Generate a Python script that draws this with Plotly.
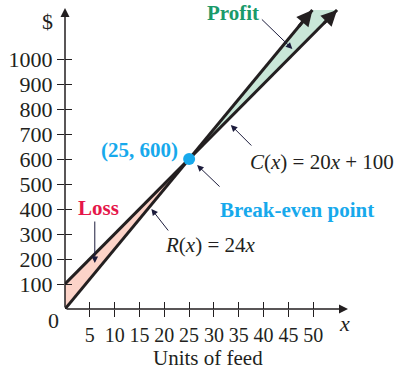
import plotly.graph_objects as go

# Cost and revenue model
revenue_rate = 24          # R(x) = 24x
cost_rate = 20             # C(x) = 20x + 100
fixed_cost = 100
break_even = (25, 600)
y_top = 1196               # where the drawn lines stop

x_ticks = [5, 10, 15, 20, 25, 30, 35, 40, 45, 50]
y_ticks = [100, 200, 300, 400, 500, 600, 700, 800, 900, 1000]

def R(x):
    return revenue_rate * x

def C(x):
    return cost_rate * x + fixed_cost

x_r_end = y_top / revenue_rate
x_c_end = (y_top - fixed_cost) / cost_rate

INK = "#231f20"
CALLOUT = "#1c1c3c"
SERIF = "Liberation Serif"
BLUE = "#17a9ec"
GREEN = "#1a9a6a"
RED = "#e5174a"

fig = go.Figure()

# Loss region (cost above revenue)
fig.add_trace(go.Scatter(
    x=[0, break_even[0], 0, 0], y=[R(0), break_even[1], C(0), R(0)],
    fill="toself", fillcolor="#fcd3c8", line=dict(width=0),
    mode="lines", hoverinfo="skip"))
# Profit region (revenue above cost)
fig.add_trace(go.Scatter(
    x=[break_even[0], x_r_end, x_c_end, break_even[0]],
    y=[break_even[1], y_top, y_top, break_even[1]],
    fill="toself", fillcolor="#c9e7d8", line=dict(width=0),
    mode="lines", hoverinfo="skip"))

# Revenue and cost lines
fig.add_trace(go.Scatter(x=[0, x_r_end], y=[R(0), R(x_r_end)], mode="lines",
                         line=dict(color=INK, width=3), hoverinfo="skip"))
fig.add_trace(go.Scatter(x=[0, x_c_end], y=[C(0), C(x_c_end)], mode="lines",
                         line=dict(color=INK, width=3), hoverinfo="skip"))

# Break-even point
fig.add_trace(go.Scatter(x=[break_even[0]], y=[break_even[1]], mode="markers",
                         marker=dict(size=12, color=BLUE), hoverinfo="skip"))

# Invisible trace on the overlay axes so they render
fig.add_trace(go.Scatter(x=[0], y=[0], xaxis="x2", yaxis="y2", mode="markers",
                         marker=dict(opacity=0), hoverinfo="skip"))

annotations = []

# Axis lines with arrowheads
annotations.append(dict(x=57, y=0, ax=0, ay=0, xref="x", yref="y", axref="x", ayref="y",
                        showarrow=True, arrowhead=2, arrowsize=1.2, arrowwidth=1.5,
                        arrowcolor=INK, text=""))
annotations.append(dict(x=0, y=1204, ax=0, ay=0, xref="x", yref="y", axref="x", ayref="y",
                        showarrow=True, arrowhead=2, arrowsize=1.2, arrowwidth=1.5,
                        arrowcolor=INK, text=""))

# Arrowheads at the ends of the two lines
for xe, ye, rate in [(x_r_end, y_top, revenue_rate), (x_c_end, y_top, cost_rate)]:
    annotations.append(dict(x=xe, y=ye, ax=xe - 3, ay=ye - 3 * rate,
                            xref="x", yref="y", axref="x", ayref="y",
                            showarrow=True, arrowhead=2, arrowsize=1.05, arrowwidth=3,
                            arrowcolor=INK, text=""))

# Callout arrows
def callout(x, y, ax, ay):
    annotations.append(dict(x=x, y=y, ax=ax, ay=ay, xref="x", yref="y",
                            showarrow=True, arrowhead=2, arrowsize=1.3, arrowwidth=1,
                            arrowcolor=CALLOUT, text=""))

callout(45.8, 1040, -32, -31)   # Profit
callout(33.4, 736, 22, 22)      # C(x)
callout(26.6, 576, 24, 23)      # Break-even point
callout(17.4, 400, 18, 23)      # R(x)
callout(6.0, 184, 0, -43)       # Loss

def label(x, y, text, size=21, color=INK, xanchor="center", bold=False, ref="data"):
    if bold:
        text = "<b>" + text + "</b>"
    xr, yr = ("x", "y") if ref == "data" else ("paper", "paper")
    annotations.append(dict(x=x, y=y, xref=xr, yref=yr, text=text, showarrow=False,
                            xanchor=xanchor, yanchor="middle",
                            font=dict(family=SERIF, size=size, color=color)))

label(33.8, 1184, "Profit", color=GREEN, bold=True)
label(36.8, 588, "<i>C</i>(<i>x</i>) = 20<i>x</i> + 100", xanchor="left")
label(30.8, 396, "Break-even point", color=BLUE, bold=True, xanchor="left")
label(23.2, 636, "(25, 600)", color=BLUE, bold=True, xanchor="right")
label(6.8, 404, "Loss", color=RED, bold=True)
label(19.8, 256, "<i>R</i>(<i>x</i>) = 24<i>x</i>", xanchor="left")

# Labels outside the plotting area use paper coordinates
label(-0.063, 0.957, "$", size=22, ref="paper")
label(-0.039, -0.037, "0", size=22, ref="paper")
label(0.989, -0.047, "<i>x</i>", size=22, ref="paper")
label(0.505, -0.163, "Units of feed", size=21, ref="paper")

fig.update_layout(
    width=394, height=372,
    margin=dict(l=63, r=46, t=9, b=63),
    paper_bgcolor="white", plot_bgcolor="white",
    showlegend=False,
    annotations=annotations,
    xaxis=dict(range=[0, 57], showgrid=False, zeroline=False, showline=False,
               tickvals=x_ticks, ticktext=[str(v) for v in x_ticks],
               ticks="outside", ticklen=7, tickwidth=1.3, tickcolor=INK,
               tickfont=dict(family=SERIF, size=20, color=INK), ticklabelstandoff=1),
    yaxis=dict(range=[0, 1200], showgrid=False, zeroline=False, showline=False,
               tickvals=y_ticks, ticktext=[str(v) for v in y_ticks],
               ticks="outside", ticklen=7, tickwidth=1.3, tickcolor=INK,
               tickfont=dict(family=SERIF, size=22, color=INK), ticklabelstandoff=0),
    xaxis2=dict(range=[0, 57], overlaying="x", showgrid=False, zeroline=False,
                tickvals=x_ticks, showticklabels=False, ticks="inside", ticklen=7,
                tickwidth=1.3, tickcolor=INK, side="bottom"),
    yaxis2=dict(range=[0, 1200], overlaying="y", showgrid=False, zeroline=False,
                tickvals=y_ticks, showticklabels=False, ticks="inside", ticklen=7,
                tickwidth=1.3, tickcolor=INK, side="left"),
)

fig.write_html("out.html")
